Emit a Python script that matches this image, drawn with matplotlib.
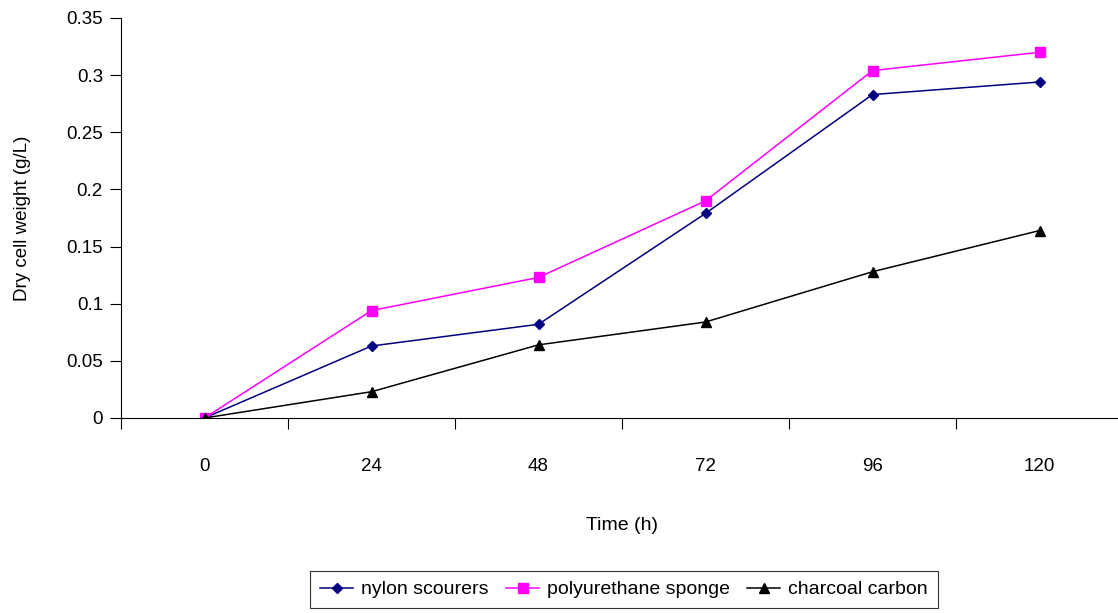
import matplotlib.pyplot as plt
import numpy as np

plt.rcParams['font.family'] = ['Liberation Sans', 'DejaVu Sans']

# Sampling times (h) and dry cell weight (g/L) for each carrier
times = ['0', '24', '48', '72', '96', '120']
nylon_scourers = [0.0, 0.063, 0.082, 0.179, 0.283, 0.294]
polyurethane_sponge = [0.0, 0.094, 0.123, 0.190, 0.304, 0.320]
charcoal_carbon = [0.0, 0.023, 0.064, 0.084, 0.128, 0.164]

y_ticks = [0, 0.05, 0.1, 0.15, 0.2, 0.25, 0.3, 0.35]
y_tick_labels = ['0', '0.05', '0.1', '0.15', '0.2', '0.25', '0.3', '0.35']

fig = plt.figure(figsize=(11.18, 6.13), dpi=100)
W, H = 1118, 613
ax = fig.add_axes([121 / W, 195 / H, 1002 / W, 400 / H])

x = np.arange(len(times))
ax.plot(x, nylon_scourers, color='#000080', marker='D', markersize=5,
        linewidth=1.1, label='nylon scourers')
ax.plot(x, polyurethane_sponge, color='#FF00FF', marker='s', markersize=7,
        linewidth=1.1, label='polyurethane sponge')
ax.plot(x, charcoal_carbon, color='black', marker='^', markersize=7,
        linewidth=1.1, label='charcoal carbon')

ax.set_xlim(-0.5, len(times) - 0.5)
ax.set_ylim(0, 0.35)

# category labels centred between the boundary ticks
ax.set_xticks(x)
ax.set_xticklabels(times, fontsize=13.5)
ax.set_xticks(np.arange(len(times) + 1) - 0.5, minor=True)
ax.tick_params(axis='x', which='major', length=0, pad=29)
ax.tick_params(axis='x', which='minor', length=8, direction='out', width=0.8)

ax.set_yticks(y_ticks)
ax.set_yticklabels(y_tick_labels, fontsize=13.5)
ax.tick_params(axis='y', length=8, direction='out', width=0.8, pad=5)

for side in ['top', 'right']:
    ax.spines[side].set_visible(False)
for side in ['left', 'bottom']:
    ax.spines[side].set_linewidth(0.8)

ax.set_xlabel('Time (h)', fontsize=14)
ax.set_ylabel('Dry cell weight (g/L)', fontsize=13.5)
ax.xaxis.label.set_va('center')
ax.yaxis.label.set_va('center')
ax.xaxis.set_label_coords(0.5, -108 / 400)
ax.yaxis.set_label_coords(-98 / 1002, 0.5)

leg = ax.legend(loc='upper center', bbox_to_anchor=(624 / W, 42 / H),
                bbox_transform=fig.transFigure, ncol=3, fontsize=14,
                frameon=True, fancybox=False, handlelength=1.7,
                handletextpad=0.4, columnspacing=0.9, borderpad=0.5,
                borderaxespad=0)
leg.get_frame().set_edgecolor('black')
leg.get_frame().set_linewidth(0.8)

fig.savefig('out.png', dpi=100)
